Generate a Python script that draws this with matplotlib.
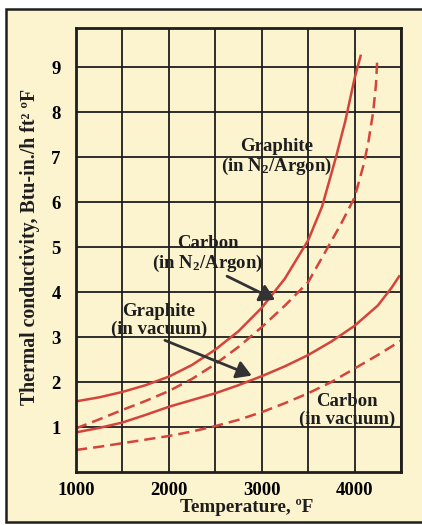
import matplotlib
matplotlib.use('Agg')
import matplotlib.pyplot as plt
from matplotlib.patches import Rectangle

# values (temperature in F, conductivity in Btu-in./h ft2 F)
graphite_n2_t = [1000, 1250, 1500, 1750, 2000, 2250, 2500, 2750, 3000, 3250, 3500, 3650, 3800, 3900, 4000, 4065]
graphite_n2_k = [1.57, 1.66, 1.78, 1.93, 2.12, 2.38, 2.72, 3.13, 3.65, 4.3, 5.15, 5.9, 7.0, 7.8, 8.75, 9.25]

carbon_n2_t = [1000, 1250, 1500, 1750, 2000, 2250, 2500, 2750, 3000, 3250, 3500, 3700, 3850, 4000, 4100, 4150, 4200, 4230, 4245]
carbon_n2_k = [0.97, 1.17, 1.38, 1.58, 1.8, 2.07, 2.4, 2.78, 3.22, 3.7, 4.22, 4.95, 5.5, 6.1, 6.85, 7.35, 8.0, 8.6, 9.2]

graphite_vac_t = [1000, 1250, 1500, 1750, 2000, 2250, 2500, 2750, 3000, 3250, 3500, 3750, 4000, 4250, 4400, 4480]
graphite_vac_k = [0.88, 0.98, 1.1, 1.27, 1.45, 1.6, 1.75, 1.93, 2.13, 2.35, 2.6, 2.9, 3.25, 3.7, 4.1, 4.35]

carbon_vac_t = [1000, 1250, 1500, 1750, 2000, 2250, 2500, 2750, 3000, 3250, 3500, 3750, 4000, 4250, 4500]
carbon_vac_k = [0.49, 0.56, 0.64, 0.72, 0.8, 0.9, 1.02, 1.16, 1.33, 1.53, 1.75, 2.0, 2.3, 2.6, 2.92]

x_ticks = [1000, 2000, 3000, 4000]
y_ticks = [1, 2, 3, 4, 5, 6, 7, 8, 9]

cream = '#fcf3cf'
red = '#d4443b'
ink = '#1e1e1e'

plt.rcParams['font.family'] = ['Liberation Serif', 'DejaVu Serif']
plt.rcParams['font.weight'] = 'bold'
plt.rcParams['mathtext.fontset'] = 'custom'
plt.rcParams['mathtext.rm'] = 'Liberation Serif:bold'
plt.rcParams['mathtext.it'] = 'Liberation Serif:bold'
plt.rcParams['mathtext.default'] = 'rm'

fig = plt.figure(figsize=(4.22, 5.25), dpi=100)
fig.patch.set_facecolor('white')
# page background with frame (right side runs off the scan)
fig.patches.append(Rectangle((6 / 422, 1 - 522 / 525), 1.0, (522 - 9) / 525,
                             transform=fig.transFigure, facecolor=cream,
                             edgecolor=ink, linewidth=1.8, zorder=-5))

ax = fig.add_axes([76 / 422, 1 - 472 / 525, 325 / 422, 444 / 525])
ax.set_zorder(2)
ax.set_facecolor(cream)
ax.set_xlim(1000, 4500)
ax.set_ylim(0, 9.87)

ax.set_xticks(range(1000, 4501, 500), minor=True)
ax.set_xticks(x_ticks)
ax.set_xticklabels([str(v) for v in x_ticks], fontsize=13.5, fontweight='bold')
ax.set_yticks(y_ticks)
ax.set_yticklabels([str(v) for v in y_ticks], fontsize=13.5, fontweight='bold')
ax.tick_params(axis='both', which='both', length=0)
ax.tick_params(axis='x', pad=7)
ax.tick_params(axis='y', pad=11)
ax.grid(True, which='both', color=ink, linewidth=1.3)
ax.set_axisbelow(True)
for s in ax.spines.values():
    s.set_color(ink)
    s.set_linewidth(2)

ax.plot(graphite_n2_t, graphite_n2_k, color=red, lw=1.8)
ax.plot(carbon_n2_t, carbon_n2_k, color=red, lw=1.8, dashes=(4.5, 2.4))
ax.plot(graphite_vac_t, graphite_vac_k, color=red, lw=1.8)
ax.plot(carbon_vac_t, carbon_vac_k, color=red, lw=1.8, dashes=(4.5, 2.4))

txt = dict(fontsize=13.5, fontweight='bold', ha='center', va='center', color=ink,
           linespacing=1.05)
ax.text(3160, 7.0, 'Graphite\n(in N$_2$/Argon)', **txt)
ax.text(2420, 4.83, 'Carbon\n(in N$_2$/Argon)', **txt)
ax.text(1890, 3.37, 'Graphite\n(in vacuum)', **txt)
ax.text(3920, 1.36, 'Carbon\n(in vacuum)', **txt)

arrow = dict(arrowstyle='-|>,head_length=0.5,head_width=0.3', color='#333333', lw=2,
             mutation_scale=18)
ax.annotate('', xy=(3170, 3.8), xytext=(2600, 4.38), arrowprops=arrow)
ax.annotate('', xy=(2920, 2.12), xytext=(1930, 2.95), arrowprops=arrow)

fig.text(30 / 422, 1 - 247 / 525, 'Thermal conductivity, Btu-in./h ft² ºF',
         rotation=90, ha='center', va='center', fontsize=14.3, fontweight='bold', color=ink)
fig.text(247 / 422, 1 - 508 / 525, 'Temperature, ºF',
         ha='center', va='center', fontsize=13.8, fontweight='bold', color=ink)

fig.savefig('out.png', dpi=100, facecolor=fig.get_facecolor())
